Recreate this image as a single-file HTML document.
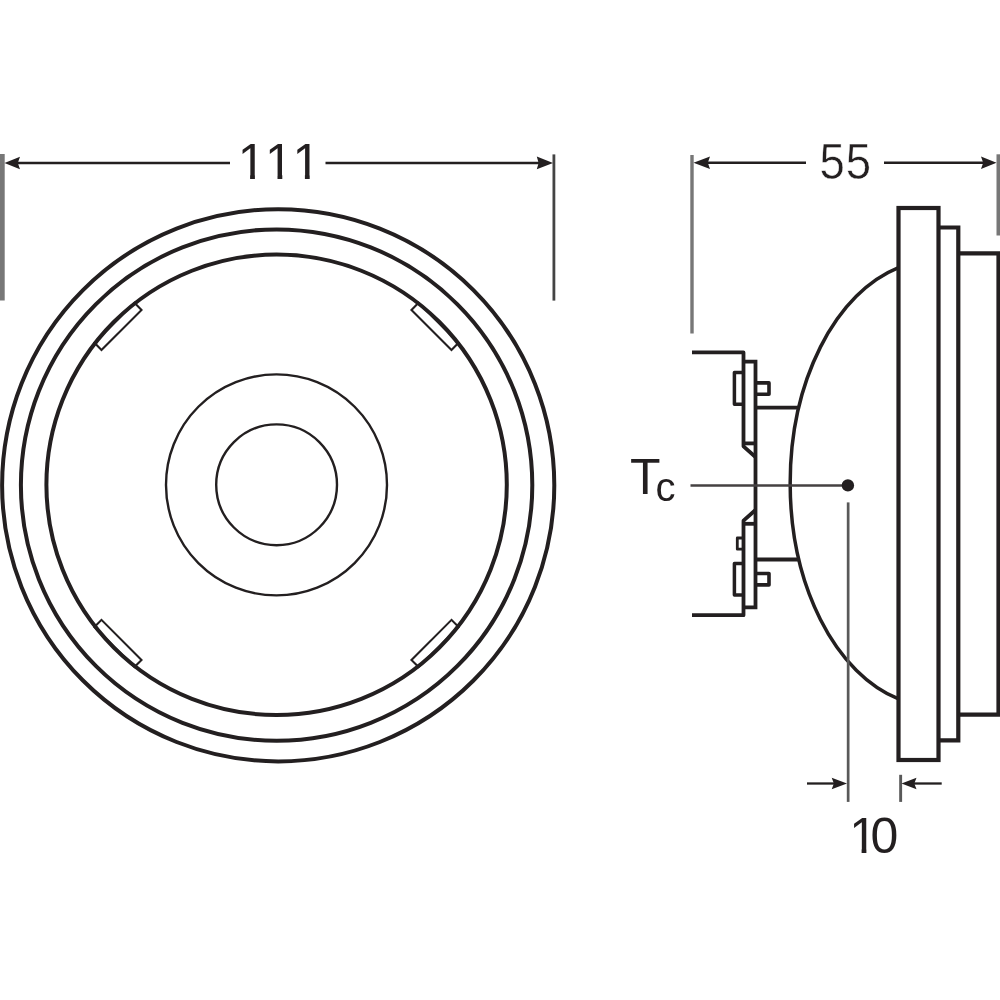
<!DOCTYPE html>
<html lang="en">
<head>
<meta charset="utf-8">
<title>Dimension drawing</title>
<style>
html,body{margin:0;padding:0;background:#fff;}
body{width:1000px;height:1000px;overflow:hidden;}
svg{display:block;}
text{font-family:"Liberation Sans",sans-serif;fill:#231f20;font-kerning:none;}
</style>
</head>
<body>
<svg width="1000" height="1000" viewBox="0 0 1000 1000">
<defs>
  <!-- keep flag + stem of each "1", trim the foot bar -->
  <clipPath id="c111"><path d="M225 125H335V174.9H309.7V181H304.9V174.9H282.3V181H277.5V174.9H254.9V181H250.1V174.9H225Z"/></clipPath>
  <filter id="gs" x="-20%" y="-20%" width="140%" height="140%"><feOffset dx="0" dy="0"/></filter>
  <clipPath id="c10"><path d="M840 800H910V870H875.6V848.9H866.4V870H861.6V848.9H840Z"/></clipPath>
</defs>
<rect width="1000" height="1000" fill="#fff"/>

<!-- ===== front view ===== -->
<g fill="none" stroke="#231f20">
  <circle cx="278.2" cy="485.3" r="276.1" stroke-width="4"/>
  <circle cx="276.6" cy="485.1" r="255.7" stroke-width="4"/>
  <circle cx="276.6" cy="484.8" r="230.2" stroke-width="4"/>
  <circle cx="276.5" cy="484.9" r="110.5" stroke-width="2.4"/>
  <circle cx="276.6" cy="484.8" r="60.4" stroke-width="2.4"/>
  <!-- tabs -->
  <g stroke-width="2.1">
    <g transform="translate(276.5 484.9) rotate(-135)"><rect x="219.2" y="-28.3" width="10" height="56.6"/></g>
    <g transform="translate(276.5 484.9) rotate(-45)"><rect x="219.2" y="-28.3" width="10" height="56.6"/></g>
    <g transform="translate(276.5 484.9) rotate(45)"><rect x="219.2" y="-28.3" width="10" height="56.6"/></g>
    <g transform="translate(276.5 484.9) rotate(135)"><rect x="219.2" y="-28.3" width="10" height="56.6"/></g>
  </g>
</g>

<!-- dimension 111 -->
<rect x="0" y="154" width="4.7" height="146.5" fill="#777"/>
<rect x="552.5" y="154.4" width="2.8" height="146.2" fill="#444"/>
<g stroke="#231f20" stroke-width="2.5" fill="none">
  <line x1="15" y1="163" x2="230" y2="163"/>
  <line x1="325.5" y1="162.9" x2="541" y2="162.9"/>
</g>
<path d="M4.5 163L20.0 156.8L17.8 163L20.0 169.2Z" fill="#231f20"/>
<path d="M553 162.9L536.8 156.5L538.6 162.9L536.8 169.3Z" fill="#231f20"/>
<text x="237.7 265.1 292.5" y="179" font-size="50" clip-path="url(#c111)">111</text>

<!-- ===== side view ===== -->
<g fill="none" stroke="#231f20" stroke-width="4.2" stroke-linejoin="miter">
  <!-- flange steps -->
  <rect x="898.5" y="208" width="40" height="552"/>
  <path d="M938.5 227.5 H958.3 V740.3 H938.5"/>
  <path d="M958.3 253.3 H998.5 V714.6 H958.3"/>
</g>
<g fill="none" stroke="#231f20" stroke-width="3.5">
  <!-- reflector curve -->
  <path d="M898.5 267.64 A145.3 223 0 0 0 898.5 698.96"/>
</g>
<g fill="none" stroke="#231f20" stroke-width="3.8" stroke-linejoin="miter">
  <!-- base bracket -->
  <path d="M692 352.4 H743.5 V446.3 L755.5 457" stroke-linejoin="round"/>
  <path d="M692 615.2 H743.5 V520.7 L755.5 510" stroke-linejoin="round"/>
  <!-- contact plate -->
  <path d="M743.5 361.6 H755.5 V607.4 H743.5"/>
  <path d="M743.5 443.4 H755.5"/>
  <path d="M743.5 523.8 H755.5"/>
  <!-- pins -->
  <g stroke-linejoin="round">
    <path d="M743.5 372.6 H734.4 V404.2 H743.5" stroke-width="3.5"/>
    <path d="M743.5 563.4 H734.4 V595 H743.5" stroke-width="3.5"/>
    <path d="M743.5 538 H737.3 V549.2 H743.5" stroke-width="2.8"/>
    <path d="M755.5 382.9 H769 V394.3 H755.5" stroke-width="3.6"/>
    <path d="M755.5 573.5 H769 V584.9 H755.5" stroke-width="3.6"/>
  </g>
  <line x1="755.5" y1="407.7" x2="799" y2="407.7"/>
  <line x1="755.5" y1="559.5" x2="799" y2="559.5"/>
</g>

<!-- Tc -->
<line x1="690.5" y1="485.4" x2="847" y2="485.4" stroke="#454142" stroke-width="2.5"/>
<circle cx="847.9" cy="485.4" r="6.2" fill="#231f20"/>
<text x="629.9" y="494.1" font-size="50" filter="url(#gs)">T<tspan x="655.6" y="500.9" font-size="40">c</tspan></text>

<!-- dimension 55 -->
<rect x="690.3" y="155" width="3.4" height="178.5" fill="#777"/>
<rect x="996.5" y="154.3" width="3.5" height="81.2" fill="#777"/>
<g stroke="#231f20" stroke-width="2.5" fill="none">
  <line x1="706" y1="162.7" x2="806" y2="162.7"/>
  <line x1="884" y1="162.7" x2="985" y2="162.7"/>
</g>
<path d="M693.5 162.7L710.0 156.5L707.8 162.7L710.0 168.9Z" fill="#231f20"/>
<path d="M996.5 162.7L981.0 156.5L983.2 162.7L981.0 168.9Z" fill="#231f20"/>
<text transform="translate(819.4 178.9) scale(0.91 1)" x="0 29" y="0" font-size="50" stroke="#fff" stroke-width="0.5" filter="url(#gs)">55</text>

<!-- dimension 10 -->
<rect x="846.8" y="502.4" width="2.7" height="299.5" fill="#595959"/>
<rect x="899.2" y="774.8" width="2.9" height="27.1" fill="#595959"/>
<g stroke="#231f20" stroke-width="2.3" fill="none">
  <line x1="807" y1="783.5" x2="836" y2="783.5"/>
  <line x1="912" y1="783.5" x2="941.7" y2="783.5"/>
</g>
<path d="M847 783.5L831.7 777.8L833.9 783.5L831.7 789.2Z" fill="#231f20"/>
<path d="M901.5 783.5L916.5 777.8L914.3 783.5L916.5 789.2Z" fill="#231f20"/>
<text x="849.2 870.4" y="853" font-size="50" clip-path="url(#c10)">10</text>
</svg>
</body>
</html>
